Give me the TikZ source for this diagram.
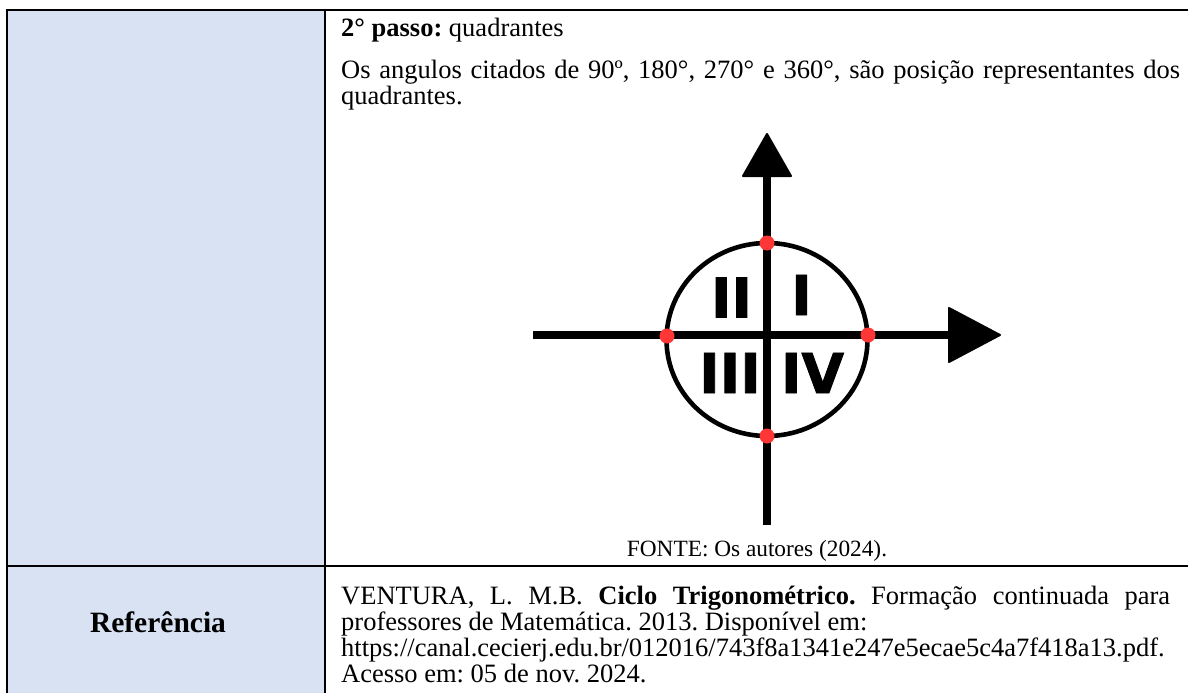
\documentclass[tikz,border=0pt]{standalone}
\usepackage{fontspec}
\setmainfont{Liberation Serif}
\newfontfamily\numfont[FakeBold=1.6]{DejaVu Sans Bold}
\definecolor{cellblue}{HTML}{D9E2F3}
\definecolor{dotred}{HTML}{FF3636}
\tikzset{
  rule/.style={line width=1.6pt, black},
  axisline/.style={line width=8.5pt, black},
  tip/.style={fill=black, draw=black, line width=2pt, line join=round},
  ring/.style={line width=4.6pt, black},
  reddot/.style={circle, fill=dotred, inner sep=0pt, minimum size=15pt},
  roman/.style={inner sep=0pt, font=\numfont\fontsize{55pt}{55pt}\selectfont},
  body/.style={anchor=base west, inner sep=0pt, font=\frenchspacing\fontsize{26.5pt}{26pt}\selectfont},
}
\begin{document}
\frenchspacing
\begin{tikzpicture}[x=1pt,y=-1pt]
\useasboundingbox (0,0) rectangle (1188,693);
% table
\fill[cellblue] (7,10) rectangle (325,693);
\draw[rule] (7,693) -- (7,10) -- (1188,10);
\draw[rule] (325,10) -- (325,693);
\draw[rule] (7,566) -- (1188,566);
% text of first row
\node[body] (l1) at (341,36.5) {\textbf{2° passo:} quadrantes};
\node[body] (l2) at (341,78) {\makebox[839pt][s]{Os angulos citados de 90º, 180°, 270° e 360°, são posição representantes dos}};
\node[body] (l3) at (341,104) {quadrantes.};
% diagram
\coordinate (hL) at (533,335);
\coordinate (hR) at (950,335);
\coordinate (vB) at (767,525);
\coordinate (vT) at (767,175);
\draw[axisline] (hL) -- (hR);
\draw[axisline] (vB) -- (vT);
\filldraw[tip] (949,308) -- (1000,335) -- (949,362) -- cycle;
\filldraw[tip] (743,176) -- (767,134) -- (791,176) -- cycle;
\draw[ring] (767,339.5) ellipse [x radius=100.5pt, y radius=96.5pt];
\node[reddot] (p90) at (767,243) {};
\node[reddot] (p270) at (767,436) {};
\node[reddot] (p180) at (667,336) {};
\node[reddot] (p360) at (868,335) {};
\node[roman] (qII) at (731.5,297.5) {II};
\node[roman] (qI) at (801.5,295) {I};
\node[roman] (qIII) at (730,373) {III};
\node[roman] (qIV) at (812.5,373) {IV};
\node[anchor=base, inner sep=0pt, font=\fontsize{23.3pt}{26pt}\selectfont] (fonte) at (757,556) {FONTE: Os autores (2024).};
% second row
\node[anchor=base, inner sep=0pt, font=\bfseries\fontsize{29.5pt}{30pt}\selectfont] (ref) at (158,632) {Referência};
\node[body] (r1) at (341,604) {\makebox[829pt][s]{VENTURA, L. M.B. \textbf{Ciclo Trigonométrico.} Formação continuada para}};
\node[body] (r2) at (341,630) {professores de Matemática. 2013. Disponível em:};
\node[body] (r3) at (341,656) {https://canal.cecierj.edu.br/012016/743f8a1341e247e5ecae5c4a7f418a13.pdf.};
\node[body] (r4) at (341,682) {Acesso em: 05 de nov. 2024.};
\end{tikzpicture}
\end{document}
